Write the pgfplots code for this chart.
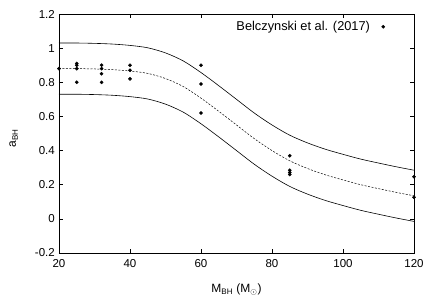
\documentclass[border=0pt]{standalone}
\usepackage{fontspec}
\setmainfont{Liberation Sans}
\usepackage{pgfplots}
\pgfplotsset{compat=1.18}
\begin{document}
\fontsize{12}{14}\selectfont
\begin{tikzpicture}[font=\fontsize{12}{14}\selectfont]
\useasboundingbox (-59pt,-52pt) rectangle (377pt,253pt);
\begin{axis}[
  at={(0,0)}, anchor=south west,
  scale only axis, width=355pt, height=239pt,
  xmin=20, xmax=120, ymin=-0.2, ymax=1.2,
  xtick={20,40,60,80,100,120},
  ytick={-0.2,0,0.2,0.4,0.6,0.8,1,1.2},
  /pgf/number format/assume math mode=true,
  tick label style={font=\fontsize{11.5}{13}\selectfont},
  xticklabel style={yshift=-2pt},
  major tick length=4pt,
  tick style={black, line width=0.5pt},
  axis line style={line width=0.7pt},
  xlabel={M\textsubscript{BH} (M\textsubscript{$\odot$})},
  ylabel={a\textsubscript{BH}},
  xlabel style={yshift=-8pt},
  ylabel style={yshift=9pt, xshift=-5pt},
  legend plot pos=right,
  legend image code/.code={\path (0pt,0pt); \draw[mark=*, mark size=1.6pt] plot coordinates {(11pt,0pt)};},
  legend style={draw=none, fill=none, at={(1,1)}, anchor=north east, xshift=-26pt, yshift=-3pt},
  legend cell align=right,
]
\addplot[black, line width=0.6pt, smooth, forget plot] coordinates {
(20,1.030)(25,1.030)(30,1.028)(35,1.024)(40,1.016)(45,1.002)(50,0.972)(55,0.925)(60,0.857)(65,0.780)(70,0.700)(75,0.620)(80,0.550)(85,0.490)(90,0.445)(95,0.408)(100,0.378)(105,0.350)(110,0.327)(115,0.305)(120,0.285)};
\addplot[black, line width=0.5pt, dash pattern=on 2pt off 1.5pt, smooth, forget plot] coordinates {
(20,0.880)(25,0.880)(30,0.878)(35,0.874)(40,0.866)(45,0.852)(50,0.822)(55,0.775)(60,0.707)(65,0.630)(70,0.550)(75,0.470)(80,0.400)(85,0.340)(90,0.295)(95,0.258)(100,0.228)(105,0.200)(110,0.177)(115,0.155)(120,0.135)};
\addplot[black, line width=0.6pt, smooth, forget plot] coordinates {
(20,0.730)(25,0.730)(30,0.728)(35,0.724)(40,0.716)(45,0.702)(50,0.672)(55,0.625)(60,0.557)(65,0.480)(70,0.400)(75,0.320)(80,0.250)(85,0.190)(90,0.145)(95,0.108)(100,0.078)(105,0.050)(110,0.027)(115,0.005)(120,-0.015)};
\addplot[only marks, mark=*, mark size=1.6pt, black] coordinates {
(20,0.88)
(25,0.91)(25,0.90)(25,0.88)(25,0.80)
(32,0.90)(32,0.88)(32,0.85)(32,0.80)
(40,0.90)(40,0.87)(40,0.82)
(60,0.90)(60,0.79)(60,0.62)
(85,0.37)(85,0.285)(85,0.272)(85,0.26)
(120,0.247)(120,0.127)};
\addlegendentry{\fontsize{12.8}{15}\selectfont Belczynski et al. (2017)}
\end{axis}
\end{tikzpicture}
\end{document}
